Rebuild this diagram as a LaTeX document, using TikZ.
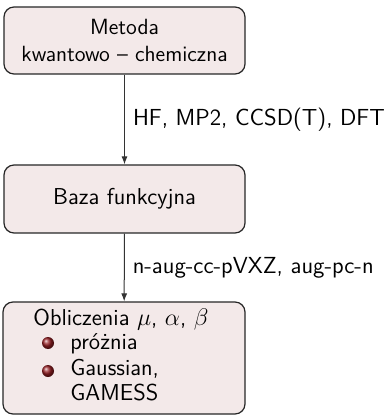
\documentclass[tikz,border=0pt]{standalone}
\usetikzlibrary{arrows.meta}
\definecolor{boxfill}{RGB}{243,233,233}
\definecolor{ballred}{RGB}{150,30,35}
\begin{document}
\begin{tikzpicture}[x=0.5pt,y=-0.5pt, font=\sffamily\fontsize{11.5}{13.5}\selectfont,
  box/.style={draw=black!85, line width=0.6pt, fill=boxfill, rounded corners=5pt, minimum width=120.5pt, inner sep=0pt},
  conn/.style={-{Latex[length=4pt,width=3pt]}, line width=0.5pt, draw=black!80},
  lbl/.style={anchor=west, inner sep=0pt, xshift=4pt, font=\sffamily\fontsize{11.6}{14}\selectfont},
  txt/.style={anchor=base west, inner sep=0pt},
  bullet/.style={circle, inner sep=0pt, minimum size=6pt, shading=ball, ball color=ballred}]
\useasboundingbox (0,0) rectangle (388,415);
\node[box, minimum height=33.5pt, align=center, font=\sffamily\fontsize{11}{13.5}\selectfont] (m) at (124.5,40.5) {Metoda\\kwantowo -- chemiczna};
\node[box, minimum height=34pt] (b) at (124.5,199) {Baza funkcyjna};
\node[box, minimum width=121pt, minimum height=56pt] (o) at (124,358) {};
\node[txt] (t1) at (33,325) {Obliczenia $\mu$, $\alpha$, $\beta$};
\node[bullet] (p1) at (48,343) {};
\node[txt] (t2) at (70,349) {próżnia};
\node[bullet] (p2) at (48,371) {};
\node[txt] (t3) at (70,375) {Gaussian,};
\node[txt] (t4) at (70,400) {GAMESS};
\draw[conn] (m) -- (b) node[midway, lbl] {HF, MP2, CCSD(T), DFT};
\draw[conn] (b) -- (o) node[midway, lbl] {n-aug-cc-pVXZ, aug-pc-n};
\end{tikzpicture}
\end{document}
